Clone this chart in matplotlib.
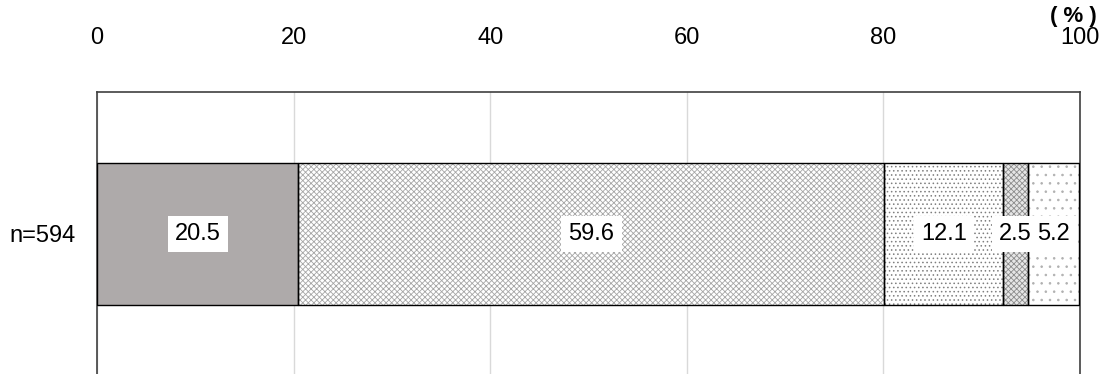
import matplotlib.pyplot as plt

# Data
category = 'n=594'
values = [20.5, 59.6, 12.1, 2.5, 5.2]
labels = ['20.5', '59.6', '12.1', '2.5', '5.2']
ticks = [0, 20, 40, 60, 80, 100]

# Styles for each segment
faces = ['#aeaaaa', 'white', 'white', '#e6e6e6', 'white']
hatches = [None, 'xxxxxx', '....', 'xxxxxx', '..']
hatch_colors = ['#aeaaaa', '#a6a6a6', '#7f7f7f', '#8c8c8c', '#b0b0b0']

plt.rcParams['font.family'] = ['Liberation Sans', 'DejaVu Sans']
plt.rcParams['hatch.linewidth'] = 0.6

fig = plt.figure(figsize=(11.07, 3.74), dpi=100)
ax = fig.add_axes([0.0876, -0.005, 0.888, 0.759])

left = 0
for v, lab, fc, h, hc in zip(values, labels, faces, hatches, hatch_colors):
    # hatched fill
    ax.barh(0, v, left=left, height=1.0, color=fc, hatch=h, edgecolor=hc,
            linewidth=0, zorder=2)
    # black outline
    ax.barh(0, v, left=left, height=1.0, fill=False, edgecolor='black',
            linewidth=1.0, zorder=3)
    ax.text(left + v / 2, 0, lab, ha='center', va='center', fontsize=17,
            zorder=4,
            bbox=dict(boxstyle='square,pad=0.3', facecolor='white',
                      edgecolor='none'))
    left += v

ax.set_xlim(0, 100)
ax.set_ylim(-1, 1)
ax.set_xticks(ticks)
ax.set_xticklabels([str(t) for t in ticks], fontsize=17)
ax.xaxis.tick_top()
ax.tick_params(axis='x', length=0, pad=31)
ax.set_yticks([0])
ax.set_yticklabels([category], fontsize=17)
ax.tick_params(axis='y', length=0, pad=15)
ax.grid(axis='x', color='#d9d9d9', linewidth=1, zorder=0)
ax.set_axisbelow(True)

for s in ['top', 'left', 'right']:
    ax.spines[s].set_color('#404040')
    ax.spines[s].set_linewidth(1.2)
ax.spines['bottom'].set_visible(False)

fig.text(0.9693, 0.955, '( % )', ha='center', va='center', fontsize=16,
         fontweight='bold')

fig.savefig('out.png', dpi=100)
